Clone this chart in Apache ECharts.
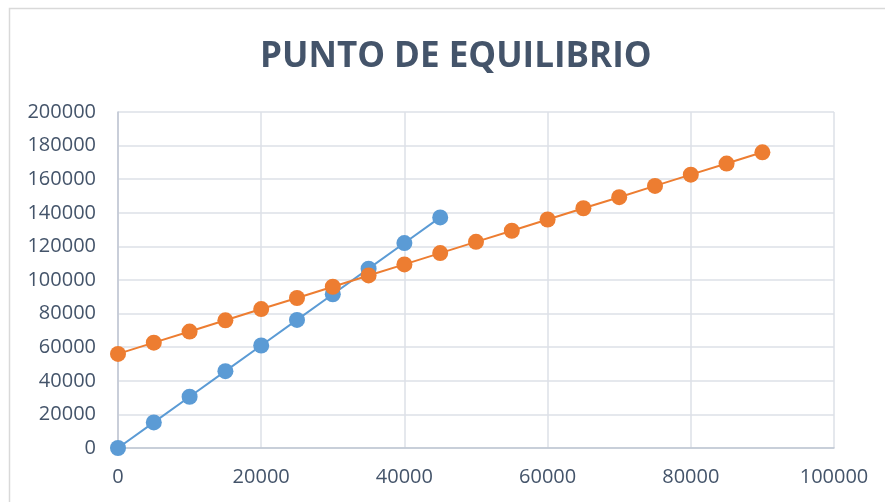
<!DOCTYPE html>
<html>
<head>
<meta charset="utf-8">
<script src="https://cdn.jsdelivr.net/npm/echarts@6/dist/echarts.min.js"></script>
<style>html,body{margin:0;padding:0;background:#fff}#c{width:885px;height:502px}</style>
</head>
<body>
<div id="c"></div>
<script>
const titleText = "PUNTO DE EQUILIBRIO";
const blueX = [0, 5000, 10000, 15000, 20000, 25000, 30000, 35000, 40000, 45000];
const blueY = [0, 15250, 30500, 45750, 61000, 76250, 91500, 106750, 122000, 137250];
const orangeX = [0, 5000, 10000, 15000, 20000, 25000, 30000, 35000, 40000, 45000, 50000, 55000, 60000, 65000, 70000, 75000, 80000, 85000, 90000];
const orangeY = [56000, 62700, 69300, 76000, 82700, 89300, 96000, 102700, 109300, 116000, 122700, 129300, 136000, 142700, 149300, 156000, 162700, 169300, 176000];

const pairs = (xs, ys) => xs.map((x, i) => [x, ys[i]]);
const font = "'Open Sans', 'Liberation Sans', sans-serif";
const textColor = "#44546A";
const plain = v => String(v);

const chart = echarts.init(document.getElementById('c'), null, {renderer: 'canvas'});
chart.setOption({
  animation: false,
  backgroundColor: '#fff',
  graphic: [{
    type: 'rect', shape: {x: 9.5, y: 8.5, width: 900, height: 520},
    style: {fill: 'none', stroke: '#D9D9D9', lineWidth: 1.5}, silent: true, z: -1
  }],
  title: {
    text: titleText, left: 255, top: 35,
    textStyle: {fontFamily: font, fontWeight: 'bold', fontSize: 35, color: textColor}
  },
  grid: {left: 118, right: 51, top: 112, bottom: 54},
  xAxis: {
    type: 'value', min: 0, max: 100000, interval: 20000,
    axisLine: {show: true, lineStyle: {color: '#BFC6D2', width: 1.5}},
    axisTick: {show: false},
    splitLine: {show: true, lineStyle: {color: '#DCE0E7', width: 1.5}},
    axisLabel: {fontFamily: font, fontSize: 20, color: textColor, margin: 19, formatter: plain}
  },
  yAxis: {
    type: 'value', min: 0, max: 200000, interval: 20000,
    axisLine: {show: true, lineStyle: {color: '#BFC6D2', width: 1.5}},
    axisTick: {show: false},
    splitLine: {show: true, lineStyle: {color: '#DCE0E7', width: 1.5}},
    axisLabel: {fontFamily: font, fontSize: 20, color: textColor, margin: 22, formatter: plain}
  },
  series: [
    {
      type: 'line', data: pairs(blueX, blueY), symbol: 'circle', symbolSize: 16,
      lineStyle: {color: '#5B9BD5', width: 2}, itemStyle: {color: '#5B9BD5'}
    },
    {
      type: 'line', data: pairs(orangeX, orangeY), symbol: 'circle', symbolSize: 16,
      lineStyle: {color: '#ED7D31', width: 2}, itemStyle: {color: '#ED7D31'}
    }
  ]
});
</script>
</body>
</html>
